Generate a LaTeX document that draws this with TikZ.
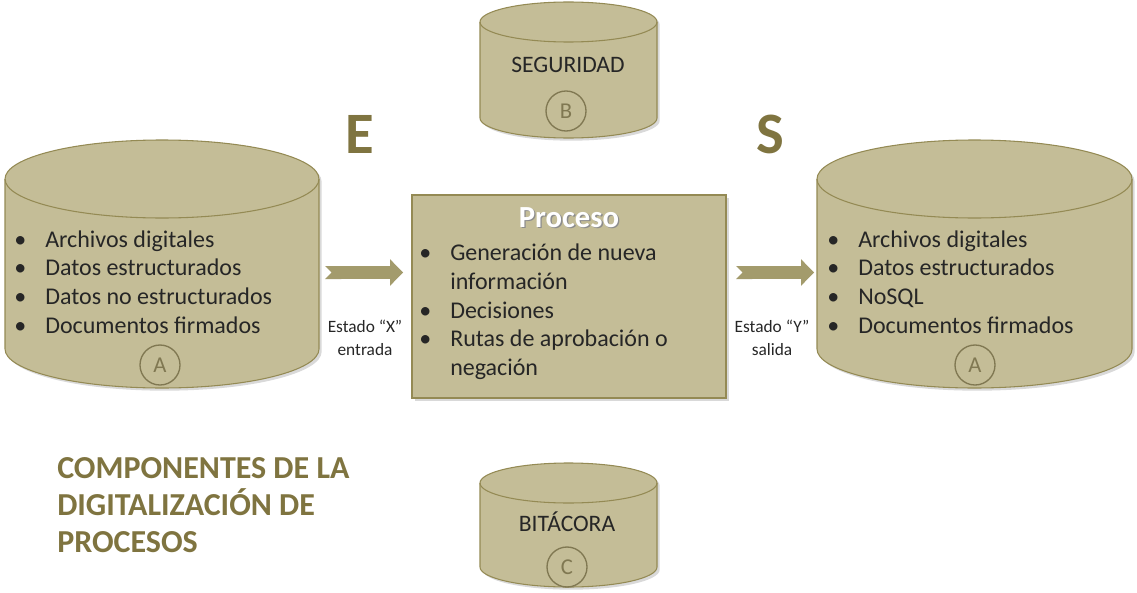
\documentclass[tikz,border=0pt]{standalone}
\usepackage{fontspec}
\setmainfont{Carlito}
\usetikzlibrary{arrows.meta,shadows}
\definecolor{relleno}{RGB}{196,189,151}
\definecolor{borde}{RGB}{148,138,84}
\definecolor{olivo}{RGB}{127,116,64}
\definecolor{flechac}{RGB}{163,155,108}
\definecolor{letrac}{RGB}{128,120,82}
\newcommand{\punto}{\makebox[23.25pt][l]{\textbullet}}
\newcommand{\sangria}{\hspace*{23.25pt}}
\tikzset{
sombra/.style = {drop shadow={shadow xshift=2pt, shadow yshift=-2pt, opacity=.25, fill=black!60}},
db/.style = {draw=borde, fill=relleno, line width=.8pt, sombra},
proc/.style = {draw=borde, fill=relleno, line width=.8pt, rectangle, minimum width=235.5pt, minimum height=152.25pt, sombra},
lista/.style = {align=left, anchor=west, inner sep=0pt, text=black!85, font=\fontsize{18}{21.5}\selectfont},
letra/.style = {draw=letrac, circle, line width=1pt, minimum size=30pt, inner sep=0pt, text=letrac, font=\fontsize{17}{17}\selectfont},
rotulo/.style = {text=black!85, font=\fontsize{17.7}{17.7}\selectfont},
estado/.style = {align=center, text=black!85, font=\fontsize{13}{17}\selectfont},
letrota/.style = {text=olivo, font=\fontsize{44}{44}\selectfont\bfseries},
titulo/.style = {align=left, anchor=west, inner sep=0pt, text=olivo, font=\fontsize{24}{27.75}\selectfont\bfseries},
flecha/.style = {draw=flechac, line width=9.75pt, {Triangle Cap[reversed]}-{Triangle[length=9.75pt,width=20pt,line width=0pt]}},
pics/basedatos/.style n args={3}{code={
    \path[db] (-#1,-#2) -- (-#1,#2) arc[start angle=180,end angle=0,x radius=#1,y radius=#3]
      -- (#1,-#2) arc[start angle=0,end angle=-180,x radius=#1,y radius=#3] -- cycle;
    \draw[borde, line width=.8pt] (-#1,-#2) arc[start angle=180,end angle=0,x radius=#1,y radius=#3];
}}
}
\begin{document}
\begin{tikzpicture}[x=0.75pt, y=-0.75pt]
    \useasboundingbox (0,0) rectangle (1137,592);

    % bases de datos
    \pic (ent) at (162,264) {basedatos={157}{85}{39}};
    \pic (sal) at (974.5,264) {basedatos={157.5}{85}{39}};
    \pic (seg) at (568.5,70) {basedatos={88.5}{48}{20}};
    \pic (bit) at (568.5,525) {basedatos={88.5}{42}{20}};

    \node[lista] (lent) at (14,282) {\punto Archivos digitales\\\punto Datos estructurados\\\punto Datos no estructurados\\\punto Documentos firmados};
    \node[lista] (lsal) at (827,282) {\punto Archivos digitales\\\punto Datos estructurados\\\punto NoSQL\\\punto Documentos firmados};
    \node[letra] (a1) at (160,365) {A};
    \node[letra] (a2) at (975,365) {A};

    \node[rotulo] (tseg) at (568,65) {SEGURIDAD};
    \node[letra] (b) at (566,111) {B};
    \node[rotulo] (tbit) at (567,522) {BITÁCORA};
    \node[letra] (c) at (567,567) {C};

    % proceso
    \node[proc] (proc) at (569,296.5) {};
    \node[text=white, font=\fontsize{23}{23}\selectfont\bfseries] (tproc) at (569,218)
        {\makebox[0pt][l]{\hspace{1pt}\raisebox{-1pt}{\textcolor{black!45}{Proceso}}}Proceso};
    \node[lista] (lproc) at (419,312) {\punto Generación de nueva\\\sangria información\\\punto Decisiones\\\punto Rutas de aprobación o\\\sangria negación};

    % entrada y salida
    \node[letrota] (e) at (360,134) {E};
    \node[letrota] (s) at (770,134) {S};
    \coordinate (x1) at (325,272.5);
    \coordinate (x2) at (403,272.5);
    \coordinate (y1) at (736,272.5);
    \coordinate (y2) at (814,272.5);
    \draw[flecha] (x1) -- (x2);
    \draw[flecha] (y1) -- (y2);
    \node[estado] (estx) at (365,338) {Estado “X”\\entrada};
    \node[estado] (esty) at (772,338) {Estado “Y”\\salida};

    \node[titulo] (tit) at (57,505) {COMPONENTES DE LA\\DIGITALIZACIÓN DE\\PROCESOS};
\end{tikzpicture}
\end{document}
